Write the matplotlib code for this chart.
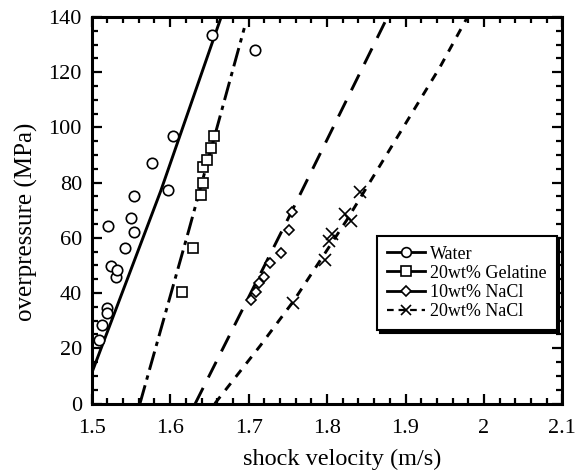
import matplotlib
matplotlib.use('Agg')
import matplotlib.pyplot as plt
from matplotlib.lines import Line2D
from matplotlib.ticker import MultipleLocator

plt.rcParams['font.family'] = ['Liberation Serif', 'DejaVu Serif']

# measured points
water_v = [1.5097, 1.5127, 1.519, 1.52, 1.5242, 1.5305, 1.5326, 1.5212, 1.5424,
           1.5497, 1.5539, 1.5539, 1.5968, 1.577, 1.604, 1.6528, 1.708]
water_p = [22.9, 28.6, 34.6, 32.8, 49.7, 45.7, 48.5, 64.4, 56.3,
           67.2, 62.0, 75.0, 77.4, 87.0, 97.0, 133.5, 128.0]

gel_v = [1.6146, 1.6295, 1.6388, 1.6422, 1.6422, 1.6475, 1.652, 1.6558]
gel_p = [40.3, 56.3, 75.6, 80.0, 85.6, 88.3, 92.7, 97.0]

nacl10_v = [1.703, 1.709, 1.713, 1.719, 1.727, 1.741, 1.751, 1.755]
nacl10_p = [37.5, 40.5, 43.5, 46.0, 51.0, 54.5, 63.0, 69.5]

nacl20_v = [1.757, 1.797, 1.803, 1.806, 1.823, 1.830, 1.842]
nacl20_p = [36.3, 52.0, 59.0, 61.5, 68.5, 66.0, 76.5]

# fitted curves
water_fit_v = [1.5, 1.588, 1.665]
water_fit_p = [11, 77, 140]
gel_fit_v = [1.5615, 1.624, 1.6945]
gel_fit_p = [0, 63, 136]
nacl10_fit_v = [1.632, 1.7548, 1.877]
nacl10_fit_p = [0, 69.5, 140]
nacl20_fit_v = [1.657, 1.715, 1.757, 1.825, 1.944, 1.979]
nacl20_fit_p = [0, 21, 37, 66.4, 121.9, 140]

labels = ['Water', '20wt% Gelatine', '10wt% NaCl', '20wt% NaCl']

fig = plt.figure(figsize=(5.83, 4.74), dpi=100)
ax = fig.add_axes([0.1573, 0.1487, 0.8074, 0.8154])

# fit lines
ax.plot(water_fit_v, water_fit_p, color='k', lw=2.1, solid_capstyle='butt')
ax.plot(gel_fit_v, gel_fit_p, color='k', lw=2.1, dashes=(6.5, 2, 1.5, 2))
ax.plot(nacl10_fit_v, nacl10_fit_p, color='k', lw=2.1, dashes=(6, 4))
ax.plot(nacl20_fit_v, nacl20_fit_p, color='k', lw=2.1, dashes=(3, 2.8))

# data points
mk = dict(ls='none', color='k', mfc='white', mew=1.2, clip_on=False)
ax.plot(water_v, water_p, marker='o', ms=7.5, **mk)
ax.plot(gel_v, gel_p, marker='s', ms=7, **mk)
ax.plot(nacl10_v, nacl10_p, marker='D', ms=5.5, **mk)
ax.plot(nacl20_v, nacl20_p, marker='x', ms=8, ls='none', color='k', mew=1.2)

ax.set_xlim(1.5, 2.1)
ax.set_ylim(0, 140)
ax.xaxis.set_major_locator(MultipleLocator(0.1))
ax.xaxis.set_minor_locator(MultipleLocator(0.02))
ax.yaxis.set_major_locator(MultipleLocator(20))
ax.yaxis.set_minor_locator(MultipleLocator(5))
ax.set_xticks([1.5, 1.6, 1.7, 1.8, 1.9, 2.0, 2.1])
ax.set_xticklabels(['1.5', '1.6', '1.7', '1.8', '1.9', '2', '2.1'])

ax.tick_params(which='both', direction='in', top=True, right=True, width=1.6)
ax.tick_params(which='major', length=7, labelsize=16)
ax.tick_params(axis='x', which='major', pad=11)
ax.tick_params(axis='y', which='major', pad=7)
ax.tick_params(which='minor', length=4)
for s in ax.spines.values():
    s.set_linewidth(2.2)

ax.set_xlabel('shock velocity (m/s)', fontsize=17.5)
ax.set_ylabel('overpressure (MPa)', fontsize=18)
ax.xaxis.set_label_coords(0.532, -0.118)
ax.yaxis.set_label_coords(-0.114, 0.47)

# legend
hw = dict(color='k', mfc='white', mew=1.2, lw=2.0)
handles = [
    Line2D([], [], marker='o', ms=7, **hw),
    Line2D([], [], marker='s', ms=6.5, **hw),
    Line2D([], [], marker='D', ms=5, **hw),
    Line2D([], [], marker='x', ms=7, dashes=(3, 2.2), color='k', mew=1.2, lw=1.6),
]
leg = ax.legend(handles, labels, loc='lower left', bbox_to_anchor=(0.6055, 0.19),
                fontsize=13, frameon=True, fancybox=False, framealpha=1,
                edgecolor='k', labelspacing=0.12, handlelength=2.1,
                handletextpad=0.3, borderpad=0.55, borderaxespad=0,
                shadow={'color': 'k', 'alpha': 1})
leg.get_frame().set_linewidth(1.5)

fig.savefig('out.png', dpi=100)
